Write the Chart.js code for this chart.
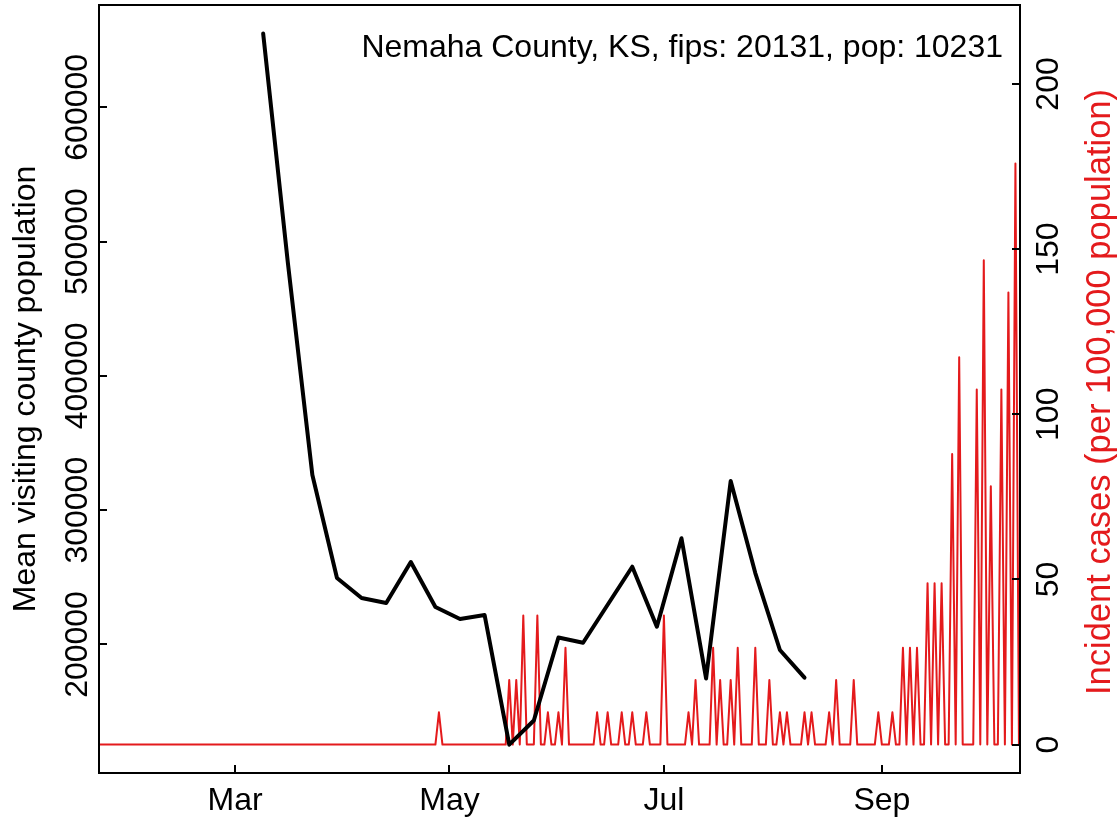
<!DOCTYPE html>
<html>
<head>
<meta charset="utf-8">
<script src="https://cdn.jsdelivr.net/npm/chart.js@4/dist/chart.umd.min.js"></script>
<style>
  html, body { margin: 0; padding: 0; background: #fff; }
  canvas { display: block; }
</style>
</head>
<body>
<canvas id="chart" width="1119" height="822"></canvas>
<script>
// days are counted from Jan 1, 2020 (Jan 1 = 0)
const firstDay = 21;
const lastDay = 283;

// weekly mean visiting county population
const visitDays = [68, 75, 82, 89, 96, 103, 110, 117, 124, 131, 138, 145,
                   152, 159, 166, 173, 180, 187, 194, 201, 208, 215, 222];
const visitPop = [655000, 484800, 326200, 249500, 234600, 230900, 261400, 227900,
                  219000, 221900, 125400, 143400, 205200, 201300, 229600, 257900,
                  213200, 279100, 174700, 321700, 253200, 195900, 175300];

// days with new cases and the incidence per 100,000 on those days (all other days are 0)
const caseDays = [118, 138, 140, 142, 146, 149, 152, 154, 163, 166, 170, 173, 177,
                  182, 189, 191, 196, 198, 201, 203, 208, 212, 215, 217, 222, 224,
                  229, 231, 236, 243, 247, 250, 252, 254, 257, 259, 261, 264, 266,
                  271, 273, 275, 278, 280, 282];
const caseRates = [9.77, 19.55, 19.55, 39.10, 39.10, 9.77, 9.77, 29.32, 9.77, 9.77, 9.77, 9.77, 9.77,
                   39.10, 9.77, 19.55, 29.32, 19.55, 19.55, 29.32, 29.32, 19.55, 9.77, 9.77, 9.77, 9.77,
                   9.77, 19.55, 19.55, 9.77, 9.77, 29.32, 29.32, 29.32, 48.87, 48.87, 48.87, 87.97, 117.29,
                   107.52, 146.61, 78.19, 107.52, 136.84, 175.94];

const monthTicks = [60, 121, 182, 244];
const monthLabels = ['Mar', 'May', 'Jul', 'Sep'];
const popTicks = [200000, 300000, 400000, 500000, 600000];
const rateTicks = [0, 50, 100, 150, 200];

const countyTitle = 'Nemaha County, KS, fips: 20131, pop: 10231';
const popTitle = 'Mean visiting county population';
const rateTitle = 'Incident cases (per 100,000 population)';

const FAMILY = '"Liberation Sans", Arial, Helvetica, sans-serif';
const FONT = '32px ' + FAMILY;
const RED = '#e41a1c';

const visits = visitDays.map((d, i) => ({ x: d, y: visitPop[i] }));
const incidence = [];
for (let d = firstDay; d <= lastDay; d++) {
  const k = caseDays.indexOf(d);
  incidence.push({ x: d, y: k >= 0 ? caseRates[k] : 0 });
}

function setTicks(values) {
  return scale => { scale.ticks = values.map(v => ({ value: v })); };
}

// box, inward tick marks and all the text, R style
const frame = {
  id: 'frame',
  afterDraw(chart) {
    const { ctx, chartArea: a, scales } = chart;
    const x = scales.x, y = scales.y, y1 = scales.y1;
    ctx.save();
    ctx.strokeStyle = '#000';
    ctx.lineWidth = 2;
    ctx.strokeRect(a.left, a.top, a.right - a.left, a.bottom - a.top);

    ctx.beginPath();
    x.ticks.forEach(t => {
      const px = Math.round(x.getPixelForValue(t.value));
      ctx.moveTo(px, a.bottom); ctx.lineTo(px, a.bottom - 8);
    });
    y.ticks.forEach(t => {
      const py = Math.round(y.getPixelForValue(t.value));
      ctx.moveTo(a.left, py); ctx.lineTo(a.left + 8, py);
    });
    y1.ticks.forEach(t => {
      const py = Math.round(y1.getPixelForValue(t.value));
      ctx.moveTo(a.right, py); ctx.lineTo(a.right - 8, py);
    });
    ctx.stroke();

    ctx.font = FONT;
    ctx.fillStyle = '#000';
    ctx.textBaseline = 'alphabetic';
    ctx.textAlign = 'center';
    x.ticks.forEach((t, i) => {
      ctx.fillText(monthLabels[i], x.getPixelForValue(t.value), a.bottom + 37);
    });

    const vtext = (text, px, py, color) => {
      ctx.save();
      ctx.translate(px, py);
      ctx.rotate(-Math.PI / 2);
      ctx.fillStyle = color;
      ctx.fillText(text, 0, 0);
      ctx.restore();
    };
    y.ticks.forEach(t => vtext(String(t.value), a.left - 12, y.getPixelForValue(t.value), '#000'));
    y1.ticks.forEach(t => vtext(String(t.value), a.right + 38, y1.getPixelForValue(t.value), '#000'));

    const midY = (a.top + a.bottom) / 2;
    vtext(popTitle, a.left - 64, midY, '#000');
    ctx.font = '34.5px ' + FAMILY;
    vtext(rateTitle, a.right + 90, midY + 3, RED);

    ctx.font = FONT;
    ctx.textAlign = 'right';
    ctx.fillText(countyTitle, a.right - 17, a.top + 52);
    ctx.restore();
  }
};

new Chart(document.getElementById('chart'), {
  type: 'line',
  data: {
    datasets: [
      {
        label: 'visits',
        data: visits,
        yAxisID: 'y',
        borderColor: '#000',
        borderWidth: 4,
        borderJoinStyle: 'round',
        borderCapStyle: 'round',
        pointRadius: 0,
        tension: 0,
        order: 0
      },
      {
        label: 'cases',
        data: incidence,
        yAxisID: 'y1',
        borderColor: RED,
        borderWidth: 2,
        borderJoinStyle: 'round',
        pointRadius: 0,
        tension: 0,
        order: 1
      }
    ]
  },
  options: {
    responsive: false,
    animation: false,
    events: [],
    layout: { padding: { top: 5, left: 0, right: 0, bottom: 0 } },
    plugins: { legend: { display: false }, tooltip: { enabled: false } },
    scales: {
      x: {
        type: 'linear',
        min: 21.3,
        max: 283.3,
        afterBuildTicks: setTicks(monthTicks),
        ticks: { display: false },
        grid: { display: false },
        border: { display: false },
        afterFit: s => { s.height = 49; }
      },
      y: {
        position: 'left',
        min: 104300,
        max: 676170,
        afterBuildTicks: setTicks(popTicks),
        ticks: { display: false },
        grid: { display: false },
        border: { display: false },
        afterFit: s => { s.width = 99; }
      },
      y1: {
        position: 'right',
        min: -8.6,
        max: 223.9,
        afterBuildTicks: setTicks(rateTicks),
        ticks: { display: false },
        grid: { display: false },
        border: { display: false },
        afterFit: s => { s.width = 99; }
      }
    }
  },
  plugins: [frame]
});
</script>
</body>
</html>
